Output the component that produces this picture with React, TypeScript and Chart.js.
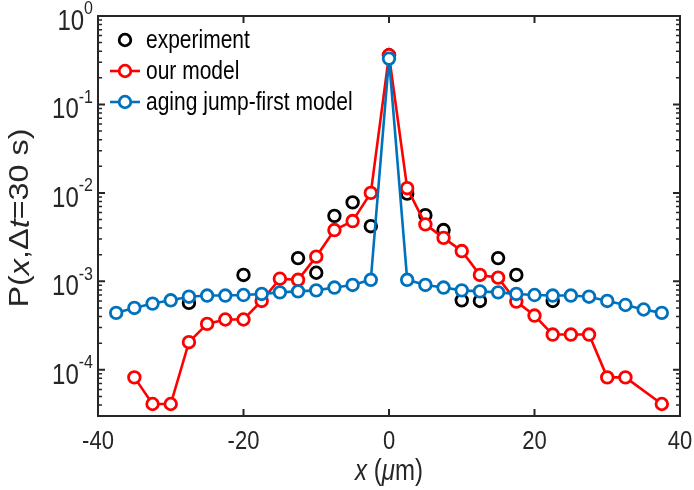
import React, { useEffect, useRef } from "react";
import { Chart, registerables } from "chart.js";

Chart.register(...registerables);

// ---------- data ----------
const X_MODEL = [
  -37.5, -35, -32.5, -30, -27.5, -25, -22.5, -20, -17.5, -15, -12.5, -10, -7.5, -5, -2.5,
  0, 2.5, 5, 7.5, 10, 12.5, 15, 17.5, 20, 22.5, 25, 27.5, 30, 32.5, 35, 37.5,
];
const OUR_MODEL_Y: (number | null)[] = [
  null, 8.2e-5, 4.1e-5, 4.1e-5, 2.05e-4, 3.3e-4, 3.7e-4, 3.7e-4, 6.0e-4, 1.07e-3, 1.04e-3, 1.9e-3, 3.8e-3, 4.8e-3, 1.0e-2,
  0.36, 1.13e-2, 4.4e-3, 3.1e-3, 2.2e-3, 1.18e-3, 1.1e-3, 5.9e-4, 4.1e-4, 2.5e-4, 2.5e-4, 2.5e-4, 8.2e-5, 8.2e-5, null, 4.1e-5,
];
const AGING_Y: number[] = [
  4.4e-4, 5.0e-4, 5.6e-4, 6.1e-4, 6.7e-4, 6.9e-4, 6.9e-4, 7.0e-4, 7.2e-4, 7.5e-4, 7.7e-4, 7.9e-4, 8.5e-4, 9.1e-4, 1.04e-3,
  0.33, 1.04e-3, 9.1e-4, 8.5e-4, 7.9e-4, 7.7e-4, 7.5e-4, 7.2e-4, 7.0e-4, 6.9e-4, 6.9e-4, 6.7e-4, 6.0e-4, 5.4e-4, 4.8e-4, 4.4e-4,
];
const EXP_X = [-27.5, -20, -12.5, -10, -7.5, -5, -2.5, 0, 2.5, 5, 7.5, 10, 12.5, 15, 17.5, 22.5];
const EXP_Y = [5.7e-4, 1.18e-3, 1.83e-3, 1.25e-3, 5.5e-3, 7.8e-3, 4.2e-3, 0.36, 9.8e-3, 5.6e-3, 3.8e-3, 6.1e-4, 6.0e-4, 1.83e-3, 1.18e-3, 6.0e-4];

const SERIES_NAMES = ["experiment", "our model", "aging jump-first model"];
const X_TICKS = [-40, -20, 0, 20, 40];
const Y_TICK_EXPONENTS = [0, -1, -2, -3, -4];
const Y_MINOR_MANTISSAS = [2, 3, 4, 5, 6, 7, 8, 9];
const Y_MINOR_DECADES = [-5, -4, -3, -2, -1];

// ---------- styles ----------
const W = 694;
const H = 490;
const AXIS = "#262626";
const FONT = '"Liberation Sans", Arial, Helvetica, sans-serif';
const TICK_PX = 22;
const YTICK_PX = 24;
const SUP_PX = 16;
const LEGEND_PX = 21;
const XTITLE_PX = 24;
const YTITLE_PX = 27;
const VSTRETCH = 1.2;

const pairs = (xs: number[], ys: (number | null)[]) =>
  xs.map((x, i) => ({ x, y: ys[i] })).filter((p) => p.y !== null) as { x: number; y: number }[];

function stretchedText(ctx: CanvasRenderingContext2D, text: string, x: number, y: number, s = VSTRETCH) {
  ctx.save();
  ctx.translate(x, y);
  ctx.scale(1, s);
  ctx.fillText(text, 0, 0);
  ctx.restore();
}

type Part = { t: string; italic?: boolean };

function drawParts(
  ctx: CanvasRenderingContext2D,
  parts: Part[],
  size: number,
  cx: number,
  cy: number,
  s: number
) {
  const font = (it?: boolean) => `${it ? "italic " : ""}${size}px ${FONT}`;
  let total = 0;
  const widths = parts.map((p) => {
    ctx.font = font(p.italic);
    const w = ctx.measureText(p.t).width;
    total += w;
    return w;
  });
  let x = cx - total / 2;
  ctx.textBaseline = "middle";
  ctx.textAlign = "left";
  parts.forEach((p, i) => {
    ctx.font = font(p.italic);
    stretchedText(ctx, p.t, x, cy, s);
    x += widths[i];
  });
}

const decorPlugin = {
  id: "matlabDecor",
  afterDraw(chart: any) {
    const ctx: CanvasRenderingContext2D = chart.ctx;
    const { left, right, top, bottom } = chart.chartArea;
    const xs = chart.scales.x;
    const ys = chart.scales.y;
    ctx.save();
    ctx.strokeStyle = AXIS;
    ctx.fillStyle = AXIS;
    ctx.lineWidth = 2;

    // ticks (inward)
    const MAJ = 7;
    const MIN = 4;
    ctx.beginPath();
    X_TICKS.forEach((v) => {
      const px = xs.getPixelForValue(v);
      ctx.moveTo(px, bottom);
      ctx.lineTo(px, bottom - MAJ);
      ctx.moveTo(px, top);
      ctx.lineTo(px, top + MAJ);
    });
    Y_TICK_EXPONENTS.forEach((e) => {
      const py = ys.getPixelForValue(Math.pow(10, e));
      ctx.moveTo(left, py);
      ctx.lineTo(left + MAJ, py);
      ctx.moveTo(right, py);
      ctx.lineTo(right - MAJ, py);
    });
    ctx.stroke();
    ctx.lineWidth = 1.5;
    ctx.beginPath();
    Y_MINOR_DECADES.forEach((d) => {
      Y_MINOR_MANTISSAS.forEach((m) => {
        const v = m * Math.pow(10, d);
        if (v < ys.min || v > ys.max) return;
        const py = ys.getPixelForValue(v);
        ctx.moveTo(left, py);
        ctx.lineTo(left + MIN, py);
        ctx.moveTo(right, py);
        ctx.lineTo(right - MIN, py);
      });
    });
    ctx.stroke();

    // box
    ctx.lineWidth = 2;
    ctx.strokeRect(left, top, right - left, bottom - top);

    // x tick labels
    ctx.font = `${TICK_PX}px ${FONT}`;
    ctx.textAlign = "center";
    ctx.textBaseline = "middle";
    X_TICKS.forEach((v) => {
      stretchedText(ctx, String(v), xs.getPixelForValue(v), bottom + 26);
    });

    // y tick labels with superscripts
    Y_TICK_EXPONENTS.forEach((e) => {
      const py = ys.getPixelForValue(Math.pow(10, e));
      const sup = String(e);
      ctx.font = `${SUP_PX}px ${FONT}`;
      const sw = ctx.measureText(sup).width;
      ctx.font = `${YTICK_PX}px ${FONT}`;
      const bw = ctx.measureText("10").width;
      const rightEdge = left - 5;
      ctx.textAlign = "left";
      ctx.textBaseline = "middle";
      stretchedText(ctx, "10", rightEdge - sw - bw, py + 6);
      ctx.font = `${SUP_PX}px ${FONT}`;
      stretchedText(ctx, sup, rightEdge - sw, py - 7);
    });

    // axis titles
    drawParts(
      ctx,
      [{ t: "x", italic: true }, { t: " (" }, { t: "\u03bc", italic: true }, { t: "m)" }],
      XTITLE_PX,
      (left + right) / 2,
      bottom + 56,
      VSTRETCH
    );
    ctx.save();
    ctx.translate(21, (top + bottom) / 2 + 2);
    ctx.scale(1, VSTRETCH);
    ctx.rotate(-Math.PI / 2);
    drawParts(
      ctx,
      [
        { t: "P(" },
        { t: "x", italic: true },
        { t: ",\u0394" },
        { t: "t", italic: true },
        { t: "=30 s)" },
      ],
      YTITLE_PX,
      0,
      0,
      1
    );
    ctx.restore();

    // legend
    const order = [0, 1, 2];
    order.forEach((di, row) => {
      const ds = chart.data.datasets[di];
      const y = top + 24 + row * 31;
      const mx = left + 27;
      if (ds.showLine !== false) {
        ctx.strokeStyle = ds.borderColor;
        ctx.lineWidth = ds.borderWidth;
        ctx.beginPath();
        ctx.moveTo(mx - 15, y);
        ctx.lineTo(mx + 15, y);
        ctx.stroke();
      }
      ctx.beginPath();
      ctx.arc(mx, y, ds.pointRadius, 0, Math.PI * 2);
      ctx.fillStyle = "#ffffff";
      ctx.fill();
      ctx.strokeStyle = ds.pointBorderColor;
      ctx.lineWidth = ds.pointBorderWidth;
      ctx.stroke();
      ctx.fillStyle = "#000000";
      ctx.font = `${LEGEND_PX}px ${FONT}`;
      ctx.textAlign = "left";
      ctx.textBaseline = "middle";
      stretchedText(ctx, ds.label, mx + 21, y + 1);
    });
    ctx.restore();
  },
};

export default function App() {
  const ref = useRef<HTMLCanvasElement>(null);
  useEffect(() => {
    if (!ref.current) return;
    const common = {
      pointStyle: "circle",
      pointRadius: 5.8,
      pointHoverRadius: 5.8,
      pointBorderWidth: 2.8,
      pointBackgroundColor: "#ffffff",
      borderWidth: 2.6,
      tension: 0,
      clip: false as any,
    };
    const chart = new Chart(ref.current, {
      type: "line",
      data: {
        datasets: [
          {
            ...common,
            label: SERIES_NAMES[0],
            data: pairs(EXP_X, EXP_Y),
            showLine: false,
            borderColor: "#000000",
            pointBorderColor: "#000000",
            order: 3,
          },
          {
            ...common,
            label: SERIES_NAMES[1],
            data: pairs(X_MODEL, OUR_MODEL_Y),
            borderColor: "#ff0000",
            pointBorderColor: "#ff0000",
            order: 2,
          },
          {
            ...common,
            label: SERIES_NAMES[2],
            data: pairs(X_MODEL, AGING_Y),
            borderColor: "#0072bd",
            pointBorderColor: "#0072bd",
            order: 1,
          },
        ] as any,
      },
      options: {
        responsive: false,
        animation: false,
        devicePixelRatio: 1,
        layout: { padding: { left: 98, top: 16, right: 14, bottom: 74 } },
        plugins: { legend: { display: false }, tooltip: { enabled: false } },
        events: [],
        scales: {
          x: { type: "linear", min: -40, max: 40, display: false },
          y: { type: "logarithmic", min: 3e-5, max: 1, display: false },
        },
      },
      plugins: [decorPlugin],
    });
    return () => chart.destroy();
  }, []);
  return (
    <div style={{ position: "absolute", left: 0, top: 0, width: W, height: H, background: "#fff" }}>
      <canvas ref={ref} width={W} height={H} style={{ display: "block", width: W, height: H }} />
    </div>
  );
}
